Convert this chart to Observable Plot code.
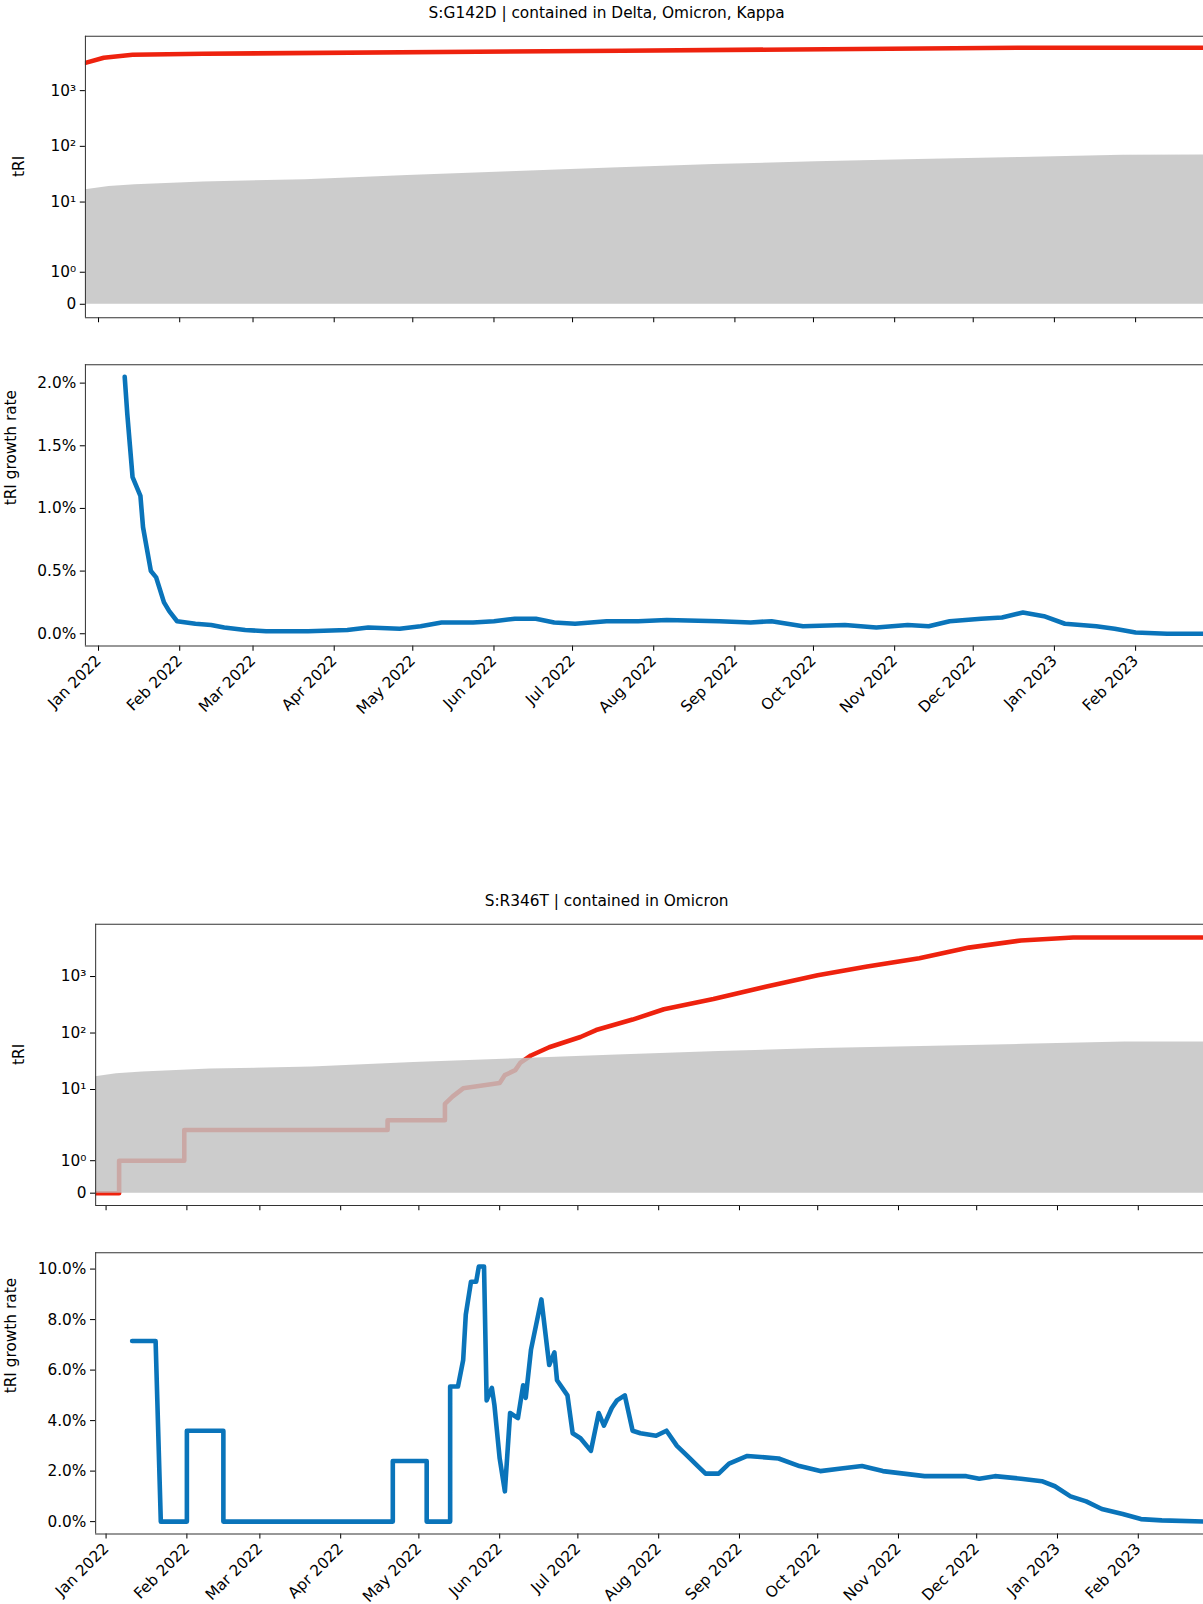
<!DOCTYPE html>
<html><head><meta charset="utf-8">
<script src="https://cdn.jsdelivr.net/npm/d3@7"></script>
<script src="https://cdn.jsdelivr.net/npm/@observablehq/plot@0.6"></script>
<style>
html,body{margin:0;padding:0;background:#fff;font-family:"DejaVu Sans",sans-serif}
#outer{position:relative;width:1203px;height:1604px;overflow:hidden}
#wrap{position:absolute;left:0;top:0;width:1176px;height:1568px;transform:scale(1.023);transform-origin:0 0}
.t{position:absolute;transform:translateX(-50%);font-size:15px;white-space:nowrap;color:#000}
.c{position:absolute;left:0;line-height:0}
svg{max-width:none !important;display:block}
</style></head><body><div id="outer"><div id="wrap">
<div class="t" style="left:593px;top:4px">S:G142D | contained in Delta, Omicron, Kappa</div>
<div class="t" style="left:593px;top:872px">S:R346T | contained in Omicron</div>
<div class="c" id="a1" style="top:30px"></div>
<div class="c" id="g1" style="top:351px"></div>
<div class="c" id="a2" style="top:898px"></div>
<div class="c" id="g2" style="top:1219px"></div>
</div></div>
<script>
const D = s => new Date(s + "T00:00:00Z");
// baseline (gray area), shared
const baseDates = ["2021-12-27","2022-01-05","2022-01-15","2022-02-10","2022-03-21","2022-04-29","2022-06-07","2022-07-16","2022-08-24","2022-10-02","2022-11-10","2022-12-19","2023-01-27","2023-03-20"];
const baseVals  = [16.6,19,20.5,23,25,30,35,41,47,53,58,63,69,70];
// section 1 tRI
const tri1Dates = ["2021-12-27","2022-01-03","2022-01-14","2022-02-10","2022-07-20","2022-12-20","2023-03-20"];
const tri1Vals  = [3150,3900,4400,4600,5200,5900,5900];
// section 1 growth (%)
const g1Dates = ["2022-01-11","2022-01-12","2022-01-13","2022-01-14","2022-01-16","2022-01-17","2022-01-18","2022-01-21","2022-01-23","2022-01-26","2022-01-28","2022-01-31","2022-02-07","2022-02-13","2022-02-18","2022-02-26","2022-03-06","2022-03-22","2022-04-06","2022-04-14","2022-04-26","2022-05-04","2022-05-12","2022-05-24","2022-06-01","2022-06-09","2022-06-17","2022-06-24","2022-07-02","2022-07-14","2022-07-26","2022-08-06","2022-08-26","2022-09-07","2022-09-15","2022-09-27","2022-10-13","2022-10-25","2022-11-06","2022-11-14","2022-11-22","2022-12-04","2022-12-12","2022-12-20","2022-12-28","2023-01-05","2023-01-17","2023-01-24","2023-02-01","2023-02-13","2023-03-20"];
const g1Vals = [2.05,1.75,1.5,1.25,1.15,1.1,0.85,0.5,0.45,0.25,0.18,0.1,0.08,0.07,0.05,0.03,0.02,0.02,0.03,0.05,0.04,0.06,0.09,0.09,0.1,0.12,0.12,0.09,0.08,0.1,0.1,0.11,0.1,0.09,0.1,0.06,0.07,0.05,0.07,0.06,0.1,0.12,0.13,0.17,0.14,0.08,0.06,0.04,0.01,0,0];
// section 2 tRI
const tri2Dates = ["2021-12-28","2022-01-06","2022-01-06","2022-01-31","2022-01-31","2022-04-19","2022-04-19","2022-05-11","2022-05-11","2022-05-14","2022-05-18","2022-06-01","2022-06-03","2022-06-07","2022-06-09","2022-06-13","2022-06-20","2022-07-02","2022-07-08","2022-07-22","2022-08-03","2022-08-22","2022-09-11","2022-10-01","2022-10-20","2022-11-09","2022-11-28","2022-12-18","2023-01-07","2023-01-26","2023-03-20"];
const tri2Vals  = [0,0,1,1,2.7,2.7,3.7,3.7,6.3,8,10.5,13,18,22,30,40,56,85,113,173,263,400,660,1050,1500,2100,3250,4350,4900,4900,4900];
// section 2 growth (%)
const g2Dates = ["2022-01-11","2022-01-20","2022-01-22","2022-02-01","2022-02-01","2022-02-15","2022-02-15","2022-04-21","2022-04-21","2022-05-04","2022-05-04","2022-05-13","2022-05-13","2022-05-16","2022-05-18","2022-05-19","2022-05-21","2022-05-23","2022-05-24","2022-05-26","2022-05-27","2022-05-29","2022-05-30","2022-06-01","2022-06-03","2022-06-05","2022-06-08","2022-06-10","2022-06-11","2022-06-13","2022-06-15","2022-06-17","2022-06-20","2022-06-22","2022-06-23","2022-06-27","2022-06-29","2022-07-02","2022-07-06","2022-07-09","2022-07-11","2022-07-14","2022-07-16","2022-07-19","2022-07-22","2022-07-25","2022-07-31","2022-08-04","2022-08-08","2022-08-12","2022-08-16","2022-08-19","2022-08-24","2022-08-28","2022-09-04","2022-09-16","2022-09-24","2022-10-02","2022-10-10","2022-10-18","2022-10-26","2022-11-03","2022-11-11","2022-11-19","2022-11-27","2022-12-02","2022-12-08","2022-12-18","2022-12-26","2022-12-31","2023-01-06","2023-01-12","2023-01-18","2023-01-26","2023-02-02","2023-02-10","2023-02-27","2023-03-20"];
const g2Vals = [7.15,7.15,0,0,3.6,3.6,0,0,2.4,2.4,0,0,5.35,5.35,6.4,8.2,9.5,9.5,10.1,10.1,4.8,5.3,4.6,2.5,1.2,4.3,4.1,5.4,4.9,6.8,7.8,8.8,6.2,6.7,5.6,5.0,3.5,3.3,2.8,4.3,3.8,4.5,4.8,5.0,3.6,3.5,3.4,3.6,3.0,2.6,2.2,1.9,1.9,2.3,2.6,2.5,2.2,2.0,2.1,2.2,2.0,1.9,1.8,1.8,1.8,1.7,1.8,1.7,1.6,1.4,1.0,0.8,0.5,0.3,0.1,0.05,0,0];

const triTicks = [0,1,10,100,1000];
const triLabels = ["0","10⁰","10¹","10²","10³"];
const months = d3.utcMonths(D("2022-01-01"), D("2023-02-02"));
const u = v => v <= 1 ? 0.575*v : v <= 10 ? 0.575 + 1.26*Math.log10(v) : 1.835 + Math.log10(v) - 1;
const RED = "rgb(238,34,14)", BLUE = "#0a74ba";
const zip = (ds, vs) => ds.map((d,i) => ({date: D(d), v: vs[i]}));
const base = zip(baseDates, baseVals);
const style = {fontSize: "15px", fontFamily: "DejaVu Sans, sans-serif", color: "#000", background: "white", overflow: "visible", maxWidth: "none"};
const W = 1176, RIGHT = 1176;
const xDom = (ml, x0, ppd) => [D(x0), new Date(+D(x0) + (RIGHT - ml)/ppd*864e5)];

function triChart(ml, x0, ppd, tri, ydom){
  return Plot.plot({
    width: W, height: 285, marginLeft: ml, marginRight: W - RIGHT, marginTop: 5, marginBottom: 5,
    style,
    x: {type: "utc", domain: xDom(ml, x0, ppd)},
    y: {domain: ydom},
    marks: [
      Plot.lineY(tri, {x: "date", y: d => u(d.v), stroke: RED, strokeWidth: 4.5, clip: true}),
      Plot.areaY(base, {x: "date", y1: 0, y2: d => u(d.v), fill: "rgb(194,194,194)", fillOpacity: 0.84, clip: true}),
      Plot.axisY({ticks: triTicks.map(u), tickFormat: (d,i) => triLabels[i], tickSize: 5, label: null}),
      Plot.axisX({ticks: months, tickFormat: () => "", tickSize: 5, label: null}),
      Plot.text(["tRI"], {frameAnchor: "left", dx: -ml + 18, rotate: -90, fontSize: 15}),
      Plot.ruleY([ydom[0], ydom[1]], {stroke: "#333"}),
      Plot.ruleX([xDom(ml, x0, ppd)[0]], {stroke: "#333"})
    ]
  });
}
function growthChart(ml, x0, ppd, g, ydom, ticks){
  return Plot.plot({
    width: W, height: 360, marginLeft: ml, marginRight: W - RIGHT, marginTop: 5, marginBottom: 80,
    style,
    x: {type: "utc", domain: xDom(ml, x0, ppd)},
    y: {domain: ydom},
    marks: [
      Plot.lineY(g, {x: "date", y: "v", stroke: BLUE, strokeWidth: 4.5, clip: true}),
      Plot.axisY({ticks, tickFormat: d => d.toFixed(1) + "%", tickSize: 5, label: null}),
      Plot.axisX({ticks: months, tickFormat: d3.utcFormat("%b %Y"), tickRotate: -45, tickSize: 5, label: null}),
      Plot.text(["tRI growth rate"], {frameAnchor: "left", dx: -ml + 10, rotate: -90, fontSize: 15}),
      Plot.ruleY([ydom[0], ydom[1]], {stroke: "#333"}),
      Plot.ruleX([xDom(ml, x0, ppd)[0]], {stroke: "#333"})
    ]
  });
}
document.getElementById("a1").append(triChart(83, "2021-12-27", 2.56, zip(tri1Dates, tri1Vals), [-0.24, 4.81]));
document.getElementById("g1").append(growthChart(83, "2021-12-27", 2.56, zip(g1Dates, g1Vals), [-0.098, 2.147], [0,0.5,1,1.5,2]));
document.getElementById("a2").append(triChart(93, "2021-12-28", 2.548, zip(tri2Dates, tri2Vals), [-0.22, 4.76]));
document.getElementById("g2").append(growthChart(93, "2021-12-28", 2.548, zip(g2Dates, g2Vals), [-0.49, 10.65], [0,2,4,6,8,10]));
</script></body></html>
